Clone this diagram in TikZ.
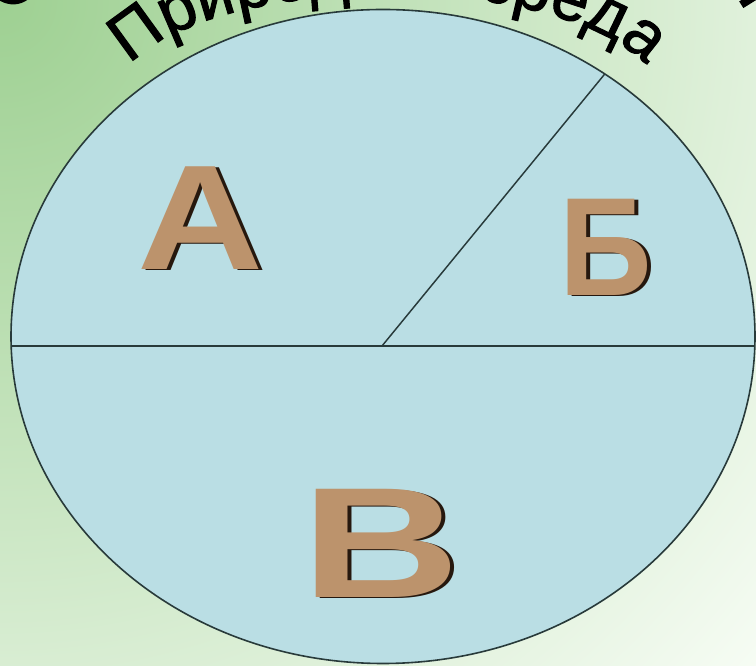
\documentclass[tikz,border=0pt]{standalone}
\usepackage{fontspec}
\setmainfont{Liberation Sans}
\newfontfamily\archfont[FakeBold=1.5]{Liberation Sans}
\usetikzlibrary{calc,decorations.text}

\definecolor{bgGreen}{RGB}{158,208,146}
\definecolor{bgWhite}{RGB}{250,254,248}
\definecolor{discBlue}{RGB}{186,222,228}
\definecolor{discLine}{RGB}{40,58,58}
\definecolor{letterTan}{RGB}{188,147,108}
\definecolor{letterDark}{RGB}{38,24,14}

\tikzset{
  disc/.style={draw=discLine, line width=1.2pt, fill=discBlue},
  divider/.style={draw=discLine, line width=1.1pt},
  letterface/.style={inner sep=0pt, text=letterTan, font=\bfseries\fontsize{#1}{#1}\selectfont},
  lettershadow/.style={inner sep=0pt, text=letterDark, font=\bfseries\fontsize{#1}{#1}\selectfont},
}

\begin{document}
\begin{tikzpicture}[x=0.75pt,y=0.75pt]
    % Define the disc radii
    \def\RX{372}
    \def\RY{327}

    % Fix the frame and paint the background
    \useasboundingbox (0,0) rectangle (756,666);
    \begin{scope}
      \clip (0,0) rectangle (756,666);
      \shade[inner color=bgGreen, outer color=bgWhite] (0,666) circle (1050);
    \end{scope}

    % Centre of the disc and of the title arch
    \coordinate (C) at (383,329.5);
    \coordinate (Arch) at (388,567);

    % Title along the arch, and the cut-off outer title
    \path[decorate, decoration={text along path, text align=center,
          text={|\archfont\fontsize{50}{50}\selectfont|Природная среда}}]
         ($(Arch)+(162:272 and 105)$) arc (162:18:272 and 105);
    \node[rotate=50, font=\archfont\fontsize{62}{62}\selectfont] (outerL) at (10,690) {С};
    \node[rotate=-58, font=\archfont\fontsize{62}{62}\selectfont] (outerR) at (757,694) {д};

    % Draw the disc
    \draw[disc] (C) ellipse [x radius=\RX, y radius=\RY];

    % Points on the rim for the dividers
    \coordinate (L) at ($(C)+(181.7:{\RX} and {\RY})$);
    \coordinate (R) at ($(C)+(-1.7:{\RX} and {\RY})$);
    \coordinate (M) at (382,320);
    \coordinate (T) at ($(C)+(53.4:{\RX} and {\RY})$);

    % Draw the dividers
    \draw[divider] (L) -- (R);
    \draw[divider] (M) -- (T);

    % Sector letters, shadow first
    \node[lettershadow=112, xscale=1.17] (shA) at (205,447) {А};
    \node[letterface=112, xscale=1.17] (secA) at (201,448) {А};
    \node[lettershadow=105, xscale=0.92] (shB) at (610,418) {Б};
    \node[letterface=105, xscale=0.92] (secB) at (606,419) {Б};
    \node[lettershadow=118, xscale=1.4] (shV) at (385,122) {В};
    \node[letterface=118, xscale=1.4] (secV) at (381,123) {В};
\end{tikzpicture}
\end{document}
